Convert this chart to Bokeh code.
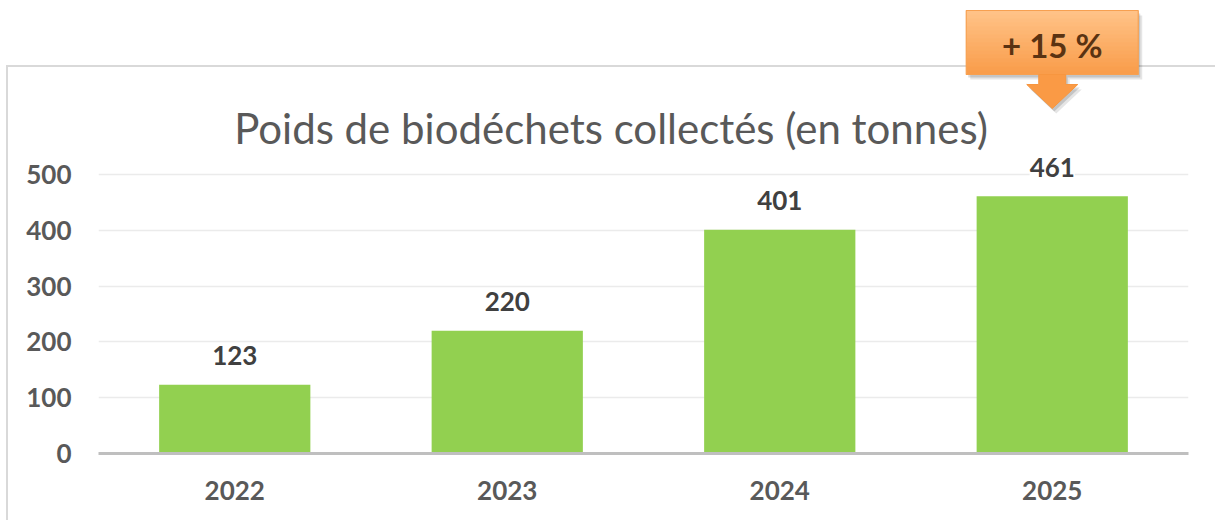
from bokeh.plotting import figure
from bokeh.models import ColumnDataSource, FactorRange, Range1d, FixedTicker, LabelSet
from bokeh.core.properties import value
from bokeh.embed import file_html
from bokeh.resources import INLINE

# ---- data ----
years = ["2022", "2023", "2024", "2025"]
tonnes = [123, 220, 401, 461]
labels = ["123", "220", "401", "461"]
y_ticks = [0, 100, 200, 300, 400, 500]
title_text = "Poids de biodéchets collectés (en tonnes)"
callout_text = "+ 15 %"

# ---- layout (pixels) ----
W, H = 1215, 520
ML, MR, MB, MT = 98, 27, 67, 0
FW = W - ML - MR
FH = H - MB - MT
Y_END = FH / 0.558
dx = len(years) / FW      # data units per px (x)
dy = Y_END / FH           # data units per px (y)


def cy(canvas_y):
    """canvas pixel row -> data y"""
    return (FH - (canvas_y - MT)) * dy


FONT = "Lato"

p = figure(width=W, height=H, x_range=FactorRange(*years, range_padding=0),
           y_range=Range1d(0, Y_END), output_backend="svg", toolbar_location=None,
           min_border_left=ML, min_border_right=MR, min_border_bottom=MB, min_border_top=MT)
p.outline_line_color = None
p.background_fill_color = None
p.border_fill_color = None
# Excel chart-area frame drawn behind the (transparent) canvas
p.styles = {
    "background-color": "white",
    "background-image": "linear-gradient(#d9d9d9,#d9d9d9), linear-gradient(#d9d9d9,#d9d9d9)",
    "background-size": "2px 460px, 1220px 2px",
    "background-position": "6px 65px, 6px 65px",
    "background-repeat": "no-repeat",
}

p.xgrid.visible = False
p.ygrid.grid_line_color = "#ebebeb"
p.ygrid.grid_line_width = 1.5
p.ygrid.ticker = FixedTicker(ticks=y_ticks)

p.yaxis.ticker = FixedTicker(ticks=y_ticks)
p.yaxis.axis_line_color = None
p.yaxis.major_tick_line_color = None
p.yaxis.major_tick_out = 0
p.yaxis.minor_tick_line_color = None
p.yaxis.major_label_standoff = 27
p.yaxis.major_label_text_font = FONT
p.yaxis.major_label_text_font_style = "bold"
p.yaxis.major_label_text_font_size = "26px"
p.yaxis.major_label_text_color = "#595959"

p.xaxis.axis_line_color = "#bfbfbf"
p.xaxis.axis_line_width = 3
p.xaxis.major_tick_line_color = None
p.xaxis.major_tick_out = 0
p.xaxis.minor_tick_line_color = None
p.xaxis.major_label_standoff = 27
p.xaxis.major_label_text_font = FONT
p.xaxis.major_label_text_font_style = "bold"
p.xaxis.major_label_text_font_size = "26px"
p.xaxis.major_label_text_color = "#595959"

src = ColumnDataSource(dict(year=years, tonnes=tonnes, label=labels))
p.vbar(x="year", top="tonnes", width=0.555, source=src,
       fill_color="#92d050", line_color=None)

ls = LabelSet(x="year", y="tonnes", text="label", source=src,
              text_align="center", text_baseline="middle", y_offset=29,
              text_font=value(FONT), text_font_size=value("26px"),
              text_font_style="bold", text_color="#404040",
              background_fill_color="white")
p.add_layout(ls)

# title (centered on chart area)
p.text(x=[(W / 2 + 3 - ML) * dx], y=[cy(127)], text=[title_text],
       text_font=value(FONT), text_font_size=value("42px"),
       text_color="#595959", text_align="center", text_baseline="alphabetic")

# callout above last bar
cx = years.index(years[-1]) + 0.5
bw = 86 * dx
top_px, bot_px = 10, 74
stem_w, stem_bot = 13.5 * dx, 84
head_w, tip = 25.5 * dx, 108

# shadow
for off, a in [((4, 5), 0.10), ((2, 3), 0.14)]:
    ox, oy = off
    p.quad(left=[cx - bw + ox * dx], right=[cx + bw + ox * dx],
           top=[cy(top_px + oy)], bottom=[cy(bot_px + oy)],
           fill_color="black", fill_alpha=a, line_color=None)
    p.patch(x=[cx - stem_w + ox * dx, cx + stem_w + ox * dx, cx + stem_w + ox * dx, cx + head_w + ox * dx,
               cx + ox * dx, cx - head_w + ox * dx, cx - stem_w + ox * dx],
            y=[cy(bot_px + oy), cy(bot_px + oy), cy(stem_bot + oy), cy(stem_bot + oy),
               cy(tip + oy), cy(stem_bot + oy), cy(stem_bot + oy)],
            fill_color="black", fill_alpha=a, line_color=None)

# gradient box
c_top = (255, 194, 135)
c_bot = (249, 157, 75)
n = 16
for i in range(n):
    t = i / (n - 1)
    col = "#%02x%02x%02x" % tuple(int(round(c_top[k] + (c_bot[k] - c_top[k]) * t)) for k in range(3))
    y0 = top_px + (bot_px - top_px) * i / n
    y1 = top_px + (bot_px - top_px) * (i + 1) / n
    p.quad(left=[cx - bw], right=[cx + bw], top=[cy(y0)], bottom=[cy(y1) - 0.5 * dy],
           fill_color=col, line_color=None)
p.quad(left=[cx - bw], right=[cx + bw], top=[cy(top_px)], bottom=[cy(bot_px)],
       fill_alpha=0, line_color="#f7a050", line_width=1.2)

# arrow
p.patch(x=[cx - stem_w, cx + stem_w, cx + stem_w, cx + head_w, cx, cx - head_w, cx - stem_w],
        y=[cy(bot_px), cy(bot_px), cy(stem_bot), cy(stem_bot), cy(tip), cy(stem_bot), cy(stem_bot)],
        fill_color="#fa9a45", line_color="#f7963f", line_width=1)

p.text(x=[cx], y=[cy(44)], text=[callout_text],
       text_font=value(FONT), text_font_size=value("33px"), text_font_style="bold",
       text_color="#5a3312", text_align="center", text_baseline="middle")

open("out.html", "w").write(file_html(p, INLINE))
